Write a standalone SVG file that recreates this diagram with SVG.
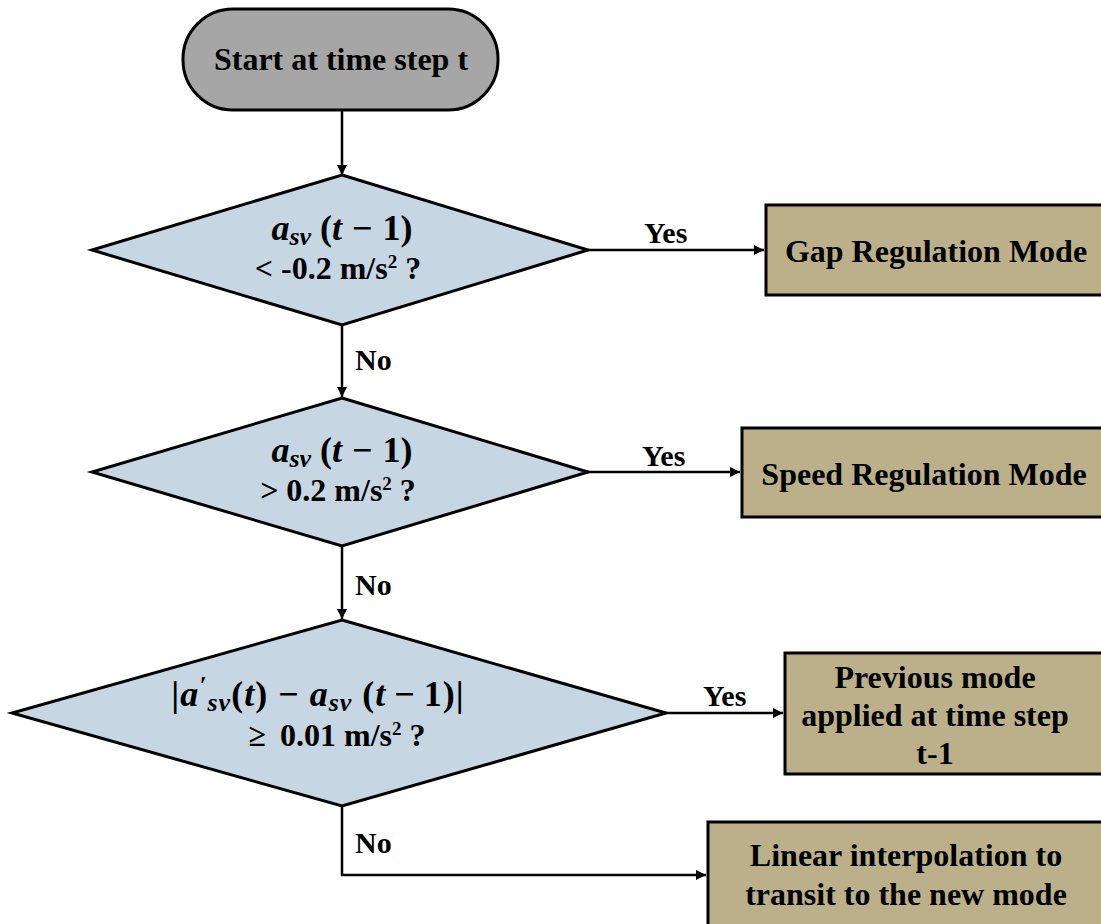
<svg xmlns="http://www.w3.org/2000/svg" width="1101" height="924" viewBox="0 0 1101 924">
<defs>
<style>
.t{font-family:"Liberation Serif","Times New Roman",serif;font-weight:bold;fill:#000;}
.lbl{font-size:30px;}
.nt{font-size:32px;text-anchor:middle;}
.m{font-family:"Liberation Serif","Times New Roman",serif;font-weight:bold;font-size:36px;text-anchor:middle;fill:#000;}
.i{font-style:italic;}
.dia{fill:#c6d6e3;stroke:#000;stroke-width:3;stroke-linejoin:miter;}
.box{fill:#bcb08b;stroke:#000;stroke-width:3;}
.ln{fill:none;stroke:#000;stroke-width:2.5;}
</style>
<marker id="ah" viewBox="0 0 10 10" refX="10" refY="5" markerWidth="4" markerHeight="4" orient="auto" markerUnits="strokeWidth">
<path d="M0,0 L10,5 L0,10 z" fill="#000"/>
</marker>
</defs>
<rect width="1101" height="924" fill="#fff"/>

<g id="connectors">
<line class="ln" x1="342" y1="110" x2="342" y2="175" marker-end="url(#ah)"/>
<line class="ln" x1="342" y1="325" x2="342" y2="397" marker-end="url(#ah)"/>
<line class="ln" x1="342" y1="546" x2="342" y2="619" marker-end="url(#ah)"/>
<line class="ln" x1="588" y1="250" x2="764" y2="250" marker-end="url(#ah)"/>
<line class="ln" x1="588" y1="472" x2="740" y2="472" marker-end="url(#ah)"/>
<line class="ln" x1="666" y1="713" x2="783" y2="713" marker-end="url(#ah)"/>
<polyline class="ln" points="342,806 342,875 706,875" marker-end="url(#ah)"/>
<text class="t lbl" x="644" y="243">Yes</text>
<text class="t lbl" x="642" y="466">Yes</text>
<text class="t lbl" x="703" y="706">Yes</text>
<text class="t lbl" x="355" y="370">No</text>
<text class="t lbl" x="355" y="595">No</text>
<text class="t lbl" x="355" y="853">No</text>
</g>

<g id="start">
<rect x="183" y="9" width="315" height="101" rx="50" ry="50" fill="#a6a6a6" stroke="#000" stroke-width="3"/>
<text class="t nt" x="341" y="70">Start at time step t</text>
</g>

<g id="decision1">
<polygon class="dia" points="342,175 588,250 342,325 92,250"/>
<text class="m" x="342" y="240"><tspan class="i">a</tspan><tspan class="i" font-size="26" dy="5">sv</tspan><tspan dy="-5"> (</tspan><tspan class="i">t</tspan><tspan dx="10">−</tspan><tspan dx="10">1)</tspan></text>
<text class="t nt" x="338" y="279">&lt; -0.2 m/s<tspan font-size="19" dy="-11">2</tspan><tspan dy="11"> ?</tspan></text>
</g>

<g id="gap">
<rect class="box" x="766" y="205" width="345" height="90"/>
<text class="t nt" x="936" y="262">Gap Regulation Mode</text>
</g>

<g id="decision2">
<polygon class="dia" points="342,398 588,472 342,546 92,472"/>
<text class="m" x="342" y="462"><tspan class="i">a</tspan><tspan class="i" font-size="26" dy="5">sv</tspan><tspan dy="-5"> (</tspan><tspan class="i">t</tspan><tspan dx="10">−</tspan><tspan dx="10">1)</tspan></text>
<text class="t nt" x="338" y="501">&gt; 0.2 m/s<tspan font-size="19" dy="-11">2</tspan><tspan dy="11"> ?</tspan></text>
</g>

<g id="speed">
<rect class="box" x="742" y="428" width="369" height="89"/>
<text class="t nt" x="924" y="485">Speed Regulation Mode</text>
</g>

<g id="decision3">
<polygon class="dia" points="342,620 666,713 342,806 12,713"/>
<text class="m" x="318" y="706" letter-spacing="1">|<tspan class="i">a</tspan><tspan class="i" font-size="26" dy="-12">′</tspan><tspan class="i" font-size="26" dy="17">sv</tspan><tspan dy="-5">(</tspan><tspan class="i">t</tspan>)<tspan dx="10">−</tspan><tspan class="i" dx="10">a</tspan><tspan class="i" font-size="26" dy="5">sv</tspan><tspan dy="-5"> (</tspan><tspan class="i">t</tspan><tspan dx="8">−</tspan><tspan dx="8">1)|</tspan></text>
<text class="t nt" x="337" y="746">≥<tspan dx="14">0.01 m/s</tspan><tspan font-size="19" dy="-11">2</tspan><tspan dy="11"> ?</tspan></text>
</g>

<g id="previous">
<rect class="box" x="785" y="653" width="326" height="121"/>
<text class="t nt" x="935" y="688">Previous mode</text>
<text class="t nt" x="935" y="726">applied at time step</text>
<text class="t nt" x="935" y="764">t-1</text>
</g>

<g id="linear">
<rect class="box" x="708" y="822" width="403" height="112"/>
<text class="t nt" x="906" y="866">Linear interpolation to</text>
<text class="t nt" x="906" y="905">transit to the new mode</text>
</g>
</svg>
